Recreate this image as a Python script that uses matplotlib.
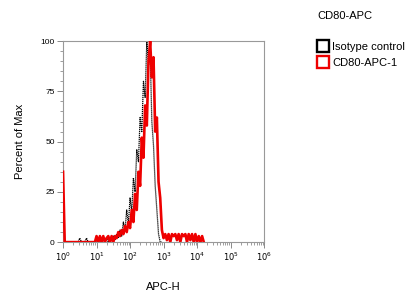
import matplotlib

matplotlib.use("Agg")
import matplotlib.pyplot as plt
import numpy as np
from matplotlib.lines import Line2D
from matplotlib.ticker import FixedLocator, LogLocator, NullFormatter

plt.rcParams["font.family"] = ["Liberation Sans", "DejaVu Sans"]

# histogram, one value per 0.05-decade bin starting at 10^0
BIN_WIDTH = 0.05
isotype = [
    10, 0, 0, 0, 0, 0, 0, 0, 0, 0,
    2, 0, 0, 0, 2, 0, 0, 0, 0, 0,
    0, 1, 0, 0, 1, 0, 2, 0, 2, 1,
    3, 1, 4, 2, 6, 3, 10, 6, 16, 9,
    22, 15, 32, 25, 46, 40, 62, 55, 80, 72,
    100, 88, 95, 60, 48, 28, 16, 4, 0, 0,
]
cd80 = [
    35, 0, 0, 0, 0, 0, 0, 0, 0, 0,
    0, 0, 0, 0, 0, 0, 0, 0, 0, 0,
    3, 0, 3, 0, 3, 0, 2, 3, 0, 3,
    0, 3, 2, 5, 3, 6, 4, 8, 5, 10,
    7, 16, 10, 24, 16, 35, 28, 52, 42, 68,
    58, 90, 100, 82, 92, 55, 62, 30, 22, 6,
    2, 4, 1, 4, 0, 4, 3, 4, 1, 4,
    0, 4, 3, 4, 0, 4, 1, 4, 0, 4,
    0, 3, 0, 3, 0,
]
series_labels = ["Isotype control", "CD80-APC-1"]
series_colors = ["black", "#ee0000"]
title = "CD80-APC"
x_label = "APC-H"
y_label = "Percent of Max"
y_ticks = [0, 25, 50, 75, 100]


def bin_centers(values):
    return 10 ** (np.arange(len(values)) * BIN_WIDTH)


fig = plt.figure(figsize=(4.12, 2.96), dpi=100)
ax = fig.add_axes([0.153, 0.182, 0.488, 0.679])

ax.plot(bin_centers(isotype), isotype, color=series_colors[0],
        linewidth=0.9, linestyle=(0, (1, 0.6)), zorder=2)
ax.plot(bin_centers(cd80), cd80, color=series_colors[1],
        linewidth=1.9, zorder=3)

ax.set_xscale("log")
ax.set_xlim(1, 1e6)
ax.set_ylim(0, 100)
ax.xaxis.set_major_locator(FixedLocator([10 ** k for k in range(7)]))
ax.set_xticklabels([f"$10^{{{k}}}$" for k in range(7)])
ax.xaxis.set_minor_locator(LogLocator(base=10, subs=np.arange(2, 10), numticks=20))
ax.xaxis.set_minor_formatter(NullFormatter())
ax.set_yticks(y_ticks)
ax.yaxis.set_minor_locator(FixedLocator(np.arange(0, 101, 5)))

for s in ax.spines.values():
    s.set_color("#999999")
    s.set_linewidth(0.8)
ax.tick_params(axis="both", which="major", labelsize=6, length=4, width=0.6,
               color="#777777", pad=2)
ax.tick_params(axis="both", which="minor", length=2, width=0.5, color="#777777")

ax.set_xlabel(x_label, fontsize=8)
ax.xaxis.set_label_coords(0.5, -0.2)
ax.set_ylabel(y_label, fontsize=8)
ax.yaxis.set_label_coords(-0.19, 0.5)

fig.text(0.77, 0.945, title, fontsize=8, ha="left", va="center")

handles = [
    Line2D([], [], linestyle="none", marker="s", markersize=9, markerfacecolor="white",
           markeredgecolor=c, markeredgewidth=1.7)
    for c in series_colors
]
fig.legend(handles, series_labels, loc="upper left", bbox_to_anchor=(0.76, 0.872),
           frameon=False, fontsize=8, handletextpad=0.3, labelspacing=0.5,
           handlelength=1.0, borderaxespad=0)

fig.savefig("out.png", dpi=100)
